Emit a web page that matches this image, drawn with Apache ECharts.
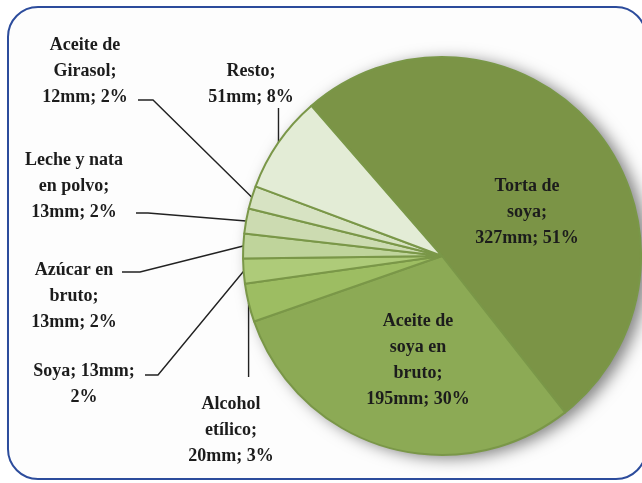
<!DOCTYPE html>
<html>
<head>
<meta charset="utf-8">
<script src="https://cdn.jsdelivr.net/npm/echarts@6/dist/echarts.min.js"></script>
<style>
  html, body { margin: 0; padding: 0; background: #fff; }
  #main { width: 642px; height: 483px; }
</style>
</head>
<body>
<div id="main"></div>
<script>
// datos (mm = millones)
var names = ['Torta de\nsoya;', 'Aceite de\nsoya en\nbruto;', 'Alcohol\netílico;', 'Soya; 13mm;', 'Azúcar en\nbruto;', 'Leche y nata\nen polvo;', 'Aceite de\nGirasol;', 'Resto;']
var values = [327, 195, 20, 13, 13, 13, 12, 51]
var percents = ['51%', '30%', '3%', '2%', '2%', '2%', '2%', '8%']
var colors = ['#7b9446', '#8caa55', '#9dbd62', '#aecb79', '#bfd49b', '#ccdbb1', '#d7e3c3', '#e3ecd6']

// posicion de cada etiqueta y de la linea guia (vy = linea vertical hasta esa y)
var labelPos = [
  { x: 527, y: 212 },
  { x: 418, y: 360 },
  { x: 231, y: 430, vy: 377 },
  { x: 84, y: 384, line: [[158, 375], [145, 375]] },
  { x: 74, y: 296, line: [[140, 272], [122, 272]] },
  { x: 74, y: 186, line: [[148, 213], [136, 213]] },
  { x: 85, y: 71, line: [[153, 100], [138, 100]] },
  { x: 251, y: 84, vy: 108 }
]

var total = 0
for (var i = 0; i < values.length; i++) total += values[i]

var data = []
for (var i = 0; i < values.length; i++) {
  var text = names[i]
  if (i == 3) text = text + '\n' + percents[i]
  else text = text + '\n' + values[i] + 'mm; ' + percents[i]
  data.push({
    name: names[i],
    value: values[i],
    itemStyle: { color: colors[i] },
    label: { formatter: text, position: i < 2 ? 'inside' : 'outside' },
    labelLine: { show: i >= 2 }
  })
}

var myChart = echarts.init(document.getElementById('main'))
var option = {
  backgroundColor: '#fff',
  animation: false,
  graphic: [{
    type: 'rect',
    shape: { x: 8, y: 7, width: 638, height: 472, r: 30 },
    style: { fill: '#fdfdfd', stroke: '#2c4c9c', lineWidth: 2 },
    z: -10
  }],
  series: [
    {
      // sombra del pastel
      type: 'pie',
      silent: true,
      center: [442, 256],
      radius: 199,
      z: 1,
      label: { show: false },
      labelLine: { show: false },
      itemStyle: {
        color: '#7b9446',
        shadowBlur: 16,
        shadowColor: 'rgba(0,0,0,0.5)',
        shadowOffsetX: 7,
        shadowOffsetY: 3
      },
      data: [{ value: total }]
    },
    {
      type: 'pie',
      center: [442, 256],
      radius: 199,
      startAngle: 131,
      clockwise: true,
      z: 2,
      avoidLabelOverlap: false,
      itemStyle: { borderColor: '#7a9748', borderWidth: 2 },
      label: {
        fontFamily: 'Liberation Serif',
        fontWeight: 'bold',
        fontSize: 18,
        lineHeight: 26,
        color: '#1c1c1c',
        align: 'center'
      },
      labelLine: {
        lineStyle: { color: '#222', width: 1.4 }
      },
      labelLayout: function (params) {
        var p = labelPos[params.dataIndex]
        var res = { x: p.x, y: p.y, align: 'center', verticalAlign: 'middle' }
        if (params.labelLinePoints && (p.line || p.vy)) {
          var start = params.labelLinePoints[0]
          if (p.line) {
            res.labelLinePoints = [[start[0], start[1]], p.line[0], p.line[1]]
          } else {
            res.labelLinePoints = [[start[0], start[1]], [start[0], p.vy], [start[0], p.vy]]
          }
        }
        return res
      },
      data: data
    }
  ]
}
myChart.setOption(option)
</script>
</body>
</html>
